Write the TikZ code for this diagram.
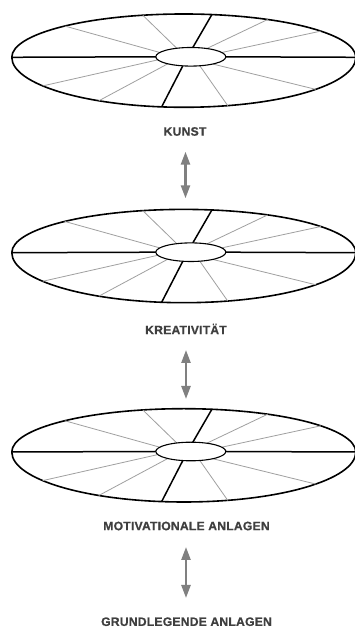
\documentclass[tikz,border=0pt]{standalone}
\usepackage{fontspec}
\setmainfont{Liberation Sans}
\newfontfamily\lblfont[LetterSpace=1.5,FakeBold=0.6]{Liberation Sans Bold}
\usetikzlibrary{arrows.meta,calc}
\definecolor{lbl}{HTML}{3F3F3F}
\definecolor{spoke}{HTML}{A0A0A0}
\definecolor{arr}{HTML}{808080}
\tikzset{
  rim/.style={line width=1.6pt, black},
  hub/.style={line width=1.1pt, black, fill=white},
  bold spoke/.style={line width=1.5pt, black},
  thin spoke/.style={line width=0.8pt, spoke},
  label/.style={font=\lblfont\fontsize{12.2}{13}\selectfont, text=lbl, inner sep=0pt},
  link/.style={arr, line width=2.4pt, {Triangle[length=13pt,width=9pt]}-{Triangle[length=13pt,width=9pt]}},
  disk/.pic={
    \draw[rim] (-172,0) arc[start angle=180,end angle=0,x radius=172,y radius=43.3]
                        arc[start angle=0,end angle=-180,x radius=172,y radius=50];
    \draw[bold spoke] (-172,0) -- (-28,0.5);
    \draw[bold spoke] (42,0.5) -- (172,0);
    \draw[bold spoke] (80.6:172 and 43.3) -- ($(7,0.5)+(86.7:35 and 9.3)$);
    \draw[thin spoke] (103.8:172 and 43.3) -- ($(7,0.5)+(113.6:35 and 9.3)$);
    \draw[thin spoke] (133.8:172 and 43.3) -- ($(7,0.5)+(152.4:35 and 9.3)$);
    \draw[thin spoke] (60.8:172 and 43.3) -- ($(7,0.5)+(62.8:35 and 9.3)$);
    \draw[thin spoke] (37.2:172 and 43.3) -- ($(7,0.5)+(27.6:35 and 9.3)$);
    \draw[bold spoke] (262.6:172 and 50) -- ($(7,0.5)+(256.8:35 and 9.3)$);
    \draw[thin spoke] (214.9:172 and 50) -- ($(7,0.5)+(199.4:35 and 9.3)$);
    \draw[thin spoke] (240.4:172 and 50) -- ($(7,0.5)+(228.9:35 and 9.3)$);
    \draw[thin spoke] (284.8:172 and 50) -- ($(7,0.5)+(284.9:35 and 9.3)$);
    \draw[thin spoke] (320.1:172 and 50) -- ($(7,0.5)+(308.9:35 and 9.3)$);
    \draw[hub] (7,0.5) ellipse[x radius=35,y radius=9.3];
  }
}
\begin{document}
\begin{tikzpicture}[x=1pt,y=1pt]
\useasboundingbox (0,0) rectangle (355,628);
\fill[white] (0,0) rectangle (355,628);

\pic (d1) at (183.8,570.7) {disk};
\pic (d2) at (183.8,375.3) {disk};
\pic (d3) at (183.8,176.0) {disk};

\node[label] (kunst) at (185,496.5) {KUNST};
\node[label] (krea) at (186,299) {KREATIVITÄT};
\node[label] (motiv) at (186.5,102) {MOTIVATIONALE ANLAGEN};
\node[label] (grund) at (186.5,6.3) {GRUNDLEGENDE ANLAGEN};

\coordinate (a1t) at (185.5,476.3);
\coordinate (a1b) at (185.5,429.7);
\coordinate (a2t) at (186,278);
\coordinate (a2b) at (186,229);
\coordinate (a3t) at (186,81);
\coordinate (a3b) at (186,30);

\draw[link] (a1t) -- (a1b);
\draw[link] (a2t) -- (a2b);
\draw[link] (a3t) -- (a3b);
\end{tikzpicture}
\end{document}
